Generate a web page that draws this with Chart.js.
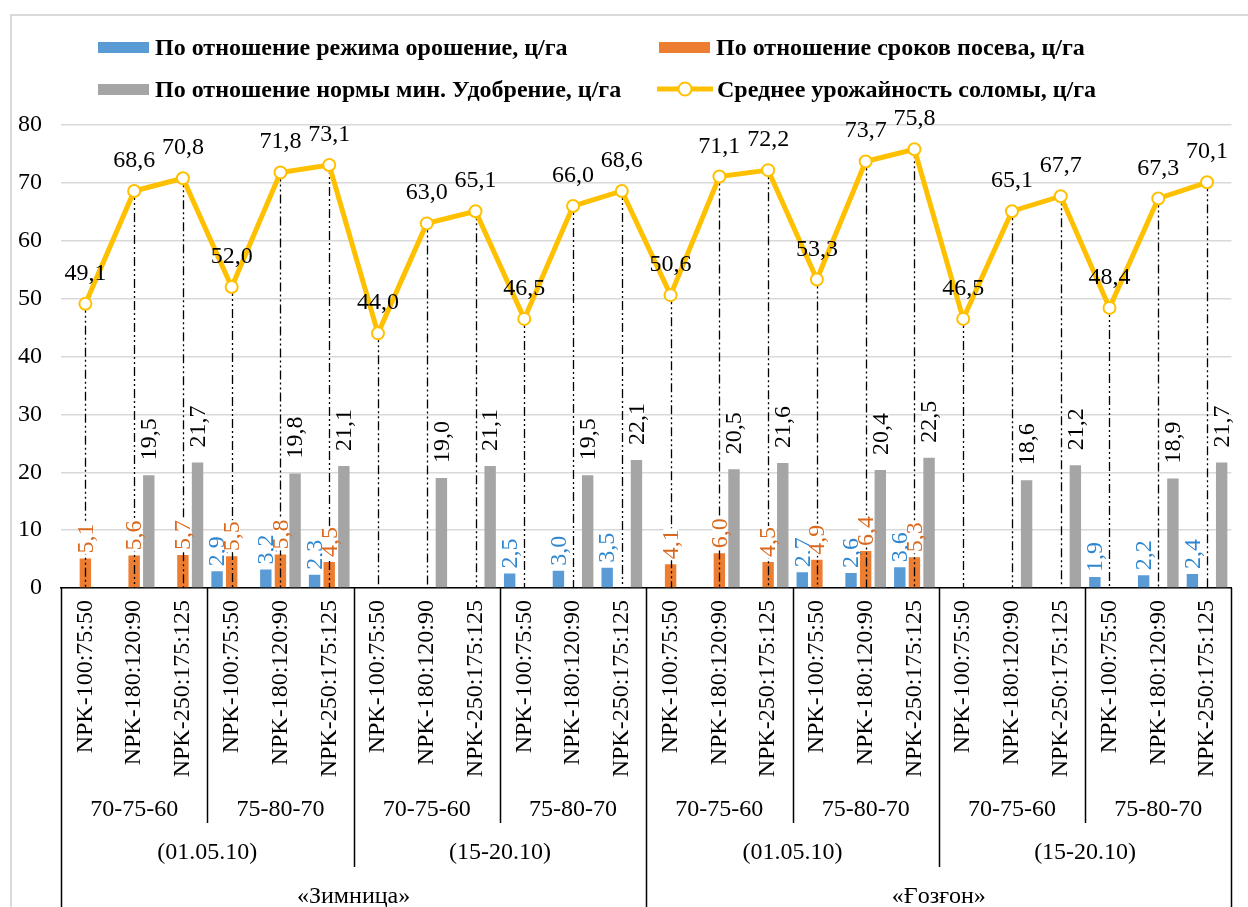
<!DOCTYPE html>
<html>
<head>
<meta charset="utf-8">
<script src="https://cdn.jsdelivr.net/npm/chart.js@4.4.1/dist/chart.umd.min.js"></script>
<style>
body{margin:0;background:#fff;overflow:hidden;}
#wrap{position:relative;width:1248px;height:907px;overflow:hidden;}
#frame{position:absolute;left:10px;top:14px;width:1260px;height:940px;border:2px solid #d9d9d9;box-sizing:border-box;}
#chart{position:absolute;left:0;top:0;}
#legend{position:absolute;left:0;top:0;width:1248px;height:110px;font-family:'Liberation Serif','Times New Roman',serif;font-weight:bold;font-size:24px;color:#000;}
.item{position:absolute;height:30px;display:flex;align-items:center;white-space:nowrap;}
.box{display:inline-block;width:51px;height:11px;margin-right:6px;}
.lineKey{margin-right:4px;}
</style>
</head>
<body>
<div id="wrap">
  <div id="frame"></div>
  <canvas id="chart" width="1248" height="907"></canvas>
  <div id="legend"></div>
</div>
<script>
//tick labels of the first axis level (fertilizer norms)
var npkLabels=["NPK-100:75:50","NPK-180:120:90","NPK-250:175:125",
  "NPK-100:75:50","NPK-180:120:90","NPK-250:175:125",
  "NPK-100:75:50","NPK-180:120:90","NPK-250:175:125",
  "NPK-100:75:50","NPK-180:120:90","NPK-250:175:125",
  "NPK-100:75:50","NPK-180:120:90","NPK-250:175:125",
  "NPK-100:75:50","NPK-180:120:90","NPK-250:175:125",
  "NPK-100:75:50","NPK-180:120:90","NPK-250:175:125",
  "NPK-100:75:50","NPK-180:120:90","NPK-250:175:125"];
//second level: irrigation regime (every 3 categories)
var regimeLabels=["70-75-60","75-80-70","70-75-60","75-80-70","70-75-60","75-80-70","70-75-60","75-80-70"];
//third level: sowing dates (every 6 categories)
var dateLabels=["(01.05.10)","(15-20.10)","(01.05.10)","(15-20.10)"];
//fourth level: variety (every 12 categories)
var varietyLabels=["«Зимница»","«Ғозғон»"];

//series values, null where there is no bar
var irrigation=[null,null,null,2.9,3.2,2.3,null,null,null,2.5,3.0,3.5,
  null,null,null,2.7,2.6,3.6,null,null,null,1.9,2.2,2.4];
var sowing=[5.1,5.6,5.7,5.5,5.8,4.5,null,null,null,null,null,null,
  4.1,6.0,4.5,4.9,6.4,5.3,null,null,null,null,null,null];
var fertilizer=[null,19.5,21.7,null,19.8,21.1,null,19.0,21.1,null,19.5,22.1,
  null,20.5,21.6,null,20.4,22.5,null,18.6,21.2,null,18.9,21.7];
var strawYield=[49.1,68.6,70.8,52.0,71.8,73.1,44.0,63.0,65.1,46.5,66.0,68.6,
  50.6,71.1,72.2,53.3,73.7,75.8,46.5,65.1,67.7,48.4,67.3,70.1];

var serif="'Liberation Serif','Times New Roman',serif";

//number with comma decimal like in the source
function fmt(v){
    return v.toFixed(1).replace(".",",");
}

//dash-dot-dot lines from each line point down to zero, drawn just before the line
var dropLines={
    id:"dropLines",
    beforeDatasetDraw:function(chart,args){
        if(args.index!==3) return;
        var ctx=chart.ctx;
        var y0=chart.scales.y.getPixelForValue(0);
        ctx.save();
        ctx.strokeStyle="#000";
        ctx.lineWidth=1.3;
        ctx.setLineDash([9,3,2,3,2,3]);
        chart.getDatasetMeta(3).data.forEach(function(pt){
            ctx.beginPath();
            ctx.moveTo(Math.round(pt.x)+0.5,pt.y);
            ctx.lineTo(Math.round(pt.x)+0.5,y0);
            ctx.stroke();
        });
        ctx.restore();
    }
};

//value labels: vertical above bars, horizontal above line points
var valueLabels={
    id:"valueLabels",
    afterDatasetsDraw:function(chart){
        var ctx=chart.ctx;
        ctx.save();
        chart.data.datasets.forEach(function(ds,i){
            var meta=chart.getDatasetMeta(i);
            meta.data.forEach(function(el,j){
                var v=ds.data[j];
                if(v===null) return;
                var txt=fmt(v);
                if(ds.type==="line"){
                    ctx.font="24px "+serif;
                    ctx.textAlign="center";
                    ctx.textBaseline="alphabetic";
                    ctx.fillStyle="#000";
                    ctx.fillText(txt,el.x,el.y-24);
                }
                else{
                    ctx.save();
                    ctx.translate(el.x,el.y-ds.labelGap);
                    ctx.rotate(-Math.PI/2);
                    ctx.font="24px "+serif;
                    ctx.textAlign="left";
                    ctx.textBaseline="middle";
                    var w=ctx.measureText(txt).width;
                    //small white box under the text, it breaks gridlines and drop lines
                    ctx.fillStyle="#fff";
                    ctx.fillRect(-1,-7,w+2,15);
                    ctx.fillStyle=ds.labelColor;
                    ctx.fillText(txt,0,1);
                    ctx.restore();
                }
            });
        });
        ctx.restore();
    }
};

//lower axis levels with separators, like a multi level category axis
var groupAxis={
    id:"groupAxis",
    afterDraw:function(chart){
        var sx=chart.scales.x;
        var ctx=chart.ctx;
        var top=sx.top;
        var half=(sx.getPixelForValue(1)-sx.getPixelForValue(0))/2;
        function edge(i){ return sx.getPixelForValue(i)-half; }
        ctx.save();
        ctx.strokeStyle="#000";
        ctx.lineWidth=1.5;
        for(var i=0;i<=npkLabels.length;i++){
            if(i%3!==0) continue;
            var bottom=top+235;
            if(i%6===0) bottom=top+279;
            if(i%12===0) bottom=chart.height;
            var xx=Math.round(edge(i))+0.5;
            ctx.beginPath();
            ctx.moveTo(xx,top);
            ctx.lineTo(xx,bottom);
            ctx.stroke();
        }
        ctx.fillStyle="#000";
        ctx.font="24px "+serif;
        ctx.textAlign="center";
        ctx.textBaseline="middle";
        function level(labels,size,y){
            for(var k=0;k<labels.length;k++){
                var cx=(edge(k*size)+edge((k+1)*size))/2;
                ctx.fillText(labels[k],cx,y);
            }
        }
        level(regimeLabels,3,top+222);
        level(dateLabels,6,top+265);
        level(varietyLabels,12,top+309);
        ctx.restore();
    }
};

var chart=new Chart(document.getElementById("chart"),{
    data:{
        labels:npkLabels,
        datasets:[{
            type:"bar",
            label:"По отношение режима орошение, ц/га",
            data:irrigation,
            backgroundColor:"#5B9BD5",
            labelColor:"#2E86D0",
            labelGap:5,
            order:1
        },{
            type:"bar",
            label:"По отношение сроков посева, ц/га",
            data:sowing,
            backgroundColor:"#ED7D31",
            labelColor:"#D8691F",
            labelGap:5,
            order:1
        },{
            type:"bar",
            label:"По отношение нормы мин. Удобрение, ц/га",
            data:fertilizer,
            backgroundColor:"#A5A5A5",
            labelColor:"#000",
            labelGap:15,
            order:1
        },{
            type:"line",
            label:"Среднее урожайность соломы, ц/га",
            data:strawYield,
            borderColor:"#FFC000",
            borderWidth:5,
            pointRadius:6,
            pointBorderWidth:2,
            pointBackgroundColor:"#fff",
            pointBorderColor:"#FFC000",
            tension:0,
            order:0
        }]
    },
    options:{
        responsive:false,
        devicePixelRatio:1,
        animation:false,
        layout:{padding:{top:125,left:0,right:8,bottom:0}},
        datasets:{bar:{categoryPercentage:0.9,barPercentage:0.78}},
        plugins:{legend:{display:false},tooltip:{enabled:false}},
        scales:{
            x:{
                grid:{display:false,drawTicks:false},
                border:{display:true,color:"#000",width:1.5},
                ticks:{
                    autoSkip:false,
                    minRotation:90,
                    maxRotation:90,
                    padding:12,
                    color:"#000",
                    font:{family:serif,size:24}
                },
                afterFit:function(s){ s.height=319; }
            },
            y:{
                min:0,
                max:80,
                grid:{color:"#D9D9D9",lineWidth:1.5,drawTicks:false},
                border:{display:false},
                ticks:{
                    stepSize:10,
                    padding:19,
                    color:"#000",
                    font:{family:serif,size:24}
                },
                afterFit:function(s){ s.width=61; }
            }
        }
    },
    plugins:[dropLines,valueLabels,groupAxis]
});

//legend in two columns, built from the datasets
function buildLegend(chart){
    var legend=document.getElementById("legend");
    var spots=[[98,32],[659,32],[98,74],[657,74]];
    chart.data.datasets.forEach(function(ds,i){
        var item=document.createElement("div");
        item.className="item";
        item.style.left=spots[i][0]+"px";
        item.style.top=spots[i][1]+"px";
        var key;
        if(ds.type==="line"){
            key=document.createElementNS("http://www.w3.org/2000/svg","svg");
            key.setAttribute("width","56");
            key.setAttribute("height","18");
            key.setAttribute("class","lineKey");
            key.innerHTML='<line x1="0" y1="9" x2="56" y2="9" stroke="'+ds.borderColor+'" stroke-width="5"/>'+
                '<circle cx="28" cy="9" r="6.5" fill="#fff" stroke="'+ds.borderColor+'" stroke-width="2"/>';
        }
        else{
            key=document.createElement("span");
            key.className="box";
            key.style.background=ds.backgroundColor;
        }
        item.appendChild(key);
        var text=document.createElement("span");
        text.innerHTML=ds.label;
        item.appendChild(text);
        legend.appendChild(item);
    });
}
buildLegend(chart);
</script>
</body>
</html>
